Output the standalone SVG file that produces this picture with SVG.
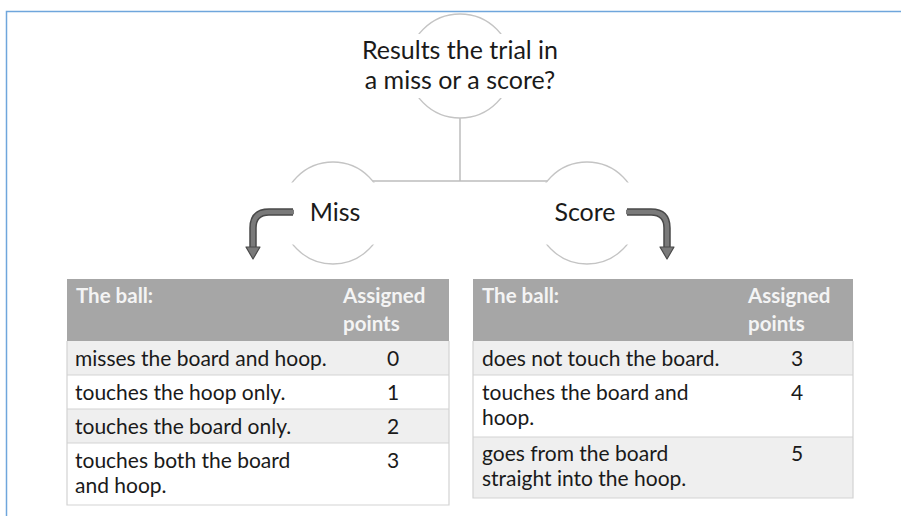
<svg xmlns="http://www.w3.org/2000/svg" width="901" height="516" viewBox="0 0 901 516">
  <style>
    .frame { stroke: #6fa6dc; stroke-width: 1.5; fill: none; }
    .ring { fill: #ffffff; stroke: #c4c4c4; stroke-width: 1.3; }
    .band { fill: #ffffff; }
    .conn { stroke: #bdbdbd; stroke-width: 1.5; fill: none; }
    .label { font-family: Lato, "Open Sans", "Liberation Sans", sans-serif; fill: #1a1a1a; }
    .title { font-size: 25px; text-anchor: middle; }
    .branch { font-size: 25px; text-anchor: middle; }
    .cell { font-family: Lato, "Open Sans", "Liberation Sans", sans-serif; font-size: 21px; fill: #1a1a1a; }
    .num { text-anchor: middle; }
    .head { font-family: Lato, "Open Sans", "Liberation Sans", sans-serif; font-size: 20.5px; font-weight: bold; fill: #f4f4f4; }
    .hdr { fill: #a6a6a6; }
    .alt { fill: #efefef; }
    .plain { fill: #ffffff; }
    .grid { stroke: #d3d3d3; stroke-width: 1.2; fill: none; }
    .shaft-out { stroke: #4a4a4a; stroke-width: 7.5; fill: none; }
    .shaft-in { stroke: #7a7a7a; stroke-width: 4.5; fill: none; }
    .tip { fill: #7a7a7a; stroke: #4a4a4a; stroke-width: 1.2; stroke-linejoin: round; }
  </style>

  <!-- page frame (top and left edges) -->
  <path class="frame" d="M6.5,516 V11.5 H901"/>

  <!-- tree connectors -->
  <g id="connectors">
    <path class="conn" d="M460,110 V181 M333,181 H587"/>
  </g>

  <!-- question node -->
  <g id="node-question">
    <circle class="ring" cx="460" cy="66" r="52"/>
    <rect class="band" x="355" y="34" width="210" height="64"/>
    <text class="label title" x="460" y="59">Results the trial in</text>
    <text class="label title" x="460" y="89">a miss or a score?</text>
  </g>

  <!-- miss branch -->
  <g id="node-miss">
    <circle class="ring" cx="333" cy="213" r="51"/>
    <rect class="band" x="262" y="182.5" width="142" height="62"/>
    <text class="label branch" x="335" y="221">Miss</text>
    <path class="shaft-out" d="M293,212 H269 Q253,212 253,228 V248"/>
    <path class="shaft-in" d="M294,212 H269 Q253,212 253,228 V249"/>
    <polygon class="tip" points="246,247 260,247 253,259"/>
  </g>

  <!-- score branch -->
  <g id="node-score">
    <circle class="ring" cx="587" cy="213" r="51"/>
    <rect class="band" x="516" y="182.5" width="142" height="62"/>
    <text class="label branch" x="585" y="221">Score</text>
    <path class="shaft-out" d="M627,212 H651 Q667,212 667,228 V248"/>
    <path class="shaft-in" d="M626,212 H651 Q667,212 667,228 V249"/>
    <polygon class="tip" points="660,247 674,247 667,259"/>
  </g>

  <!-- miss points table -->
  <g id="table-miss">
    <rect class="hdr" x="67" y="279" width="382" height="62"/>
    <rect class="alt" x="67" y="341" width="382" height="34"/>
    <rect class="plain" x="67" y="375" width="382" height="34"/>
    <rect class="alt" x="67" y="409" width="382" height="34"/>
    <rect class="plain" x="67" y="443" width="382" height="62"/>
    <path class="grid" d="M67,341 V505 H449 V341 M67,375 H449 M67,409 H449 M67,443 H449"/>
    <text class="head" x="76" y="303">The ball:</text>
    <text class="head" x="343" y="303">Assigned</text>
    <text class="head" x="343" y="331">points</text>
    <text class="cell" x="75" y="366">misses the board and hoop.</text>
    <text class="cell num" x="393" y="366">0</text>
    <text class="cell" x="75" y="400">touches the hoop only.</text>
    <text class="cell num" x="393" y="400">1</text>
    <text class="cell" x="75" y="434">touches the board only.</text>
    <text class="cell num" x="393" y="434">2</text>
    <text class="cell" x="75" y="468">touches both the board</text>
    <text class="cell" x="75" y="493">and hoop.</text>
    <text class="cell num" x="393" y="468">3</text>
  </g>

  <!-- score points table -->
  <g id="table-score">
    <rect class="hdr" x="473" y="279" width="380" height="62"/>
    <rect class="alt" x="473" y="341" width="380" height="34"/>
    <rect class="plain" x="473" y="375" width="380" height="62"/>
    <rect class="alt" x="473" y="437" width="380" height="61"/>
    <path class="grid" d="M473,341 V498 H853 V341 M473,375 H853 M473,437 H853"/>
    <text class="head" x="482" y="303">The ball:</text>
    <text class="head" x="748" y="303">Assigned</text>
    <text class="head" x="748" y="331">points</text>
    <text class="cell" x="482" y="366">does not touch the board.</text>
    <text class="cell num" x="797" y="366">3</text>
    <text class="cell" x="482" y="400">touches the board and</text>
    <text class="cell" x="482" y="425">hoop.</text>
    <text class="cell num" x="797" y="400">4</text>
    <text class="cell" x="482" y="461">goes from the board</text>
    <text class="cell" x="482" y="486">straight into the hoop.</text>
    <text class="cell num" x="797" y="461">5</text>
  </g>
</svg>
